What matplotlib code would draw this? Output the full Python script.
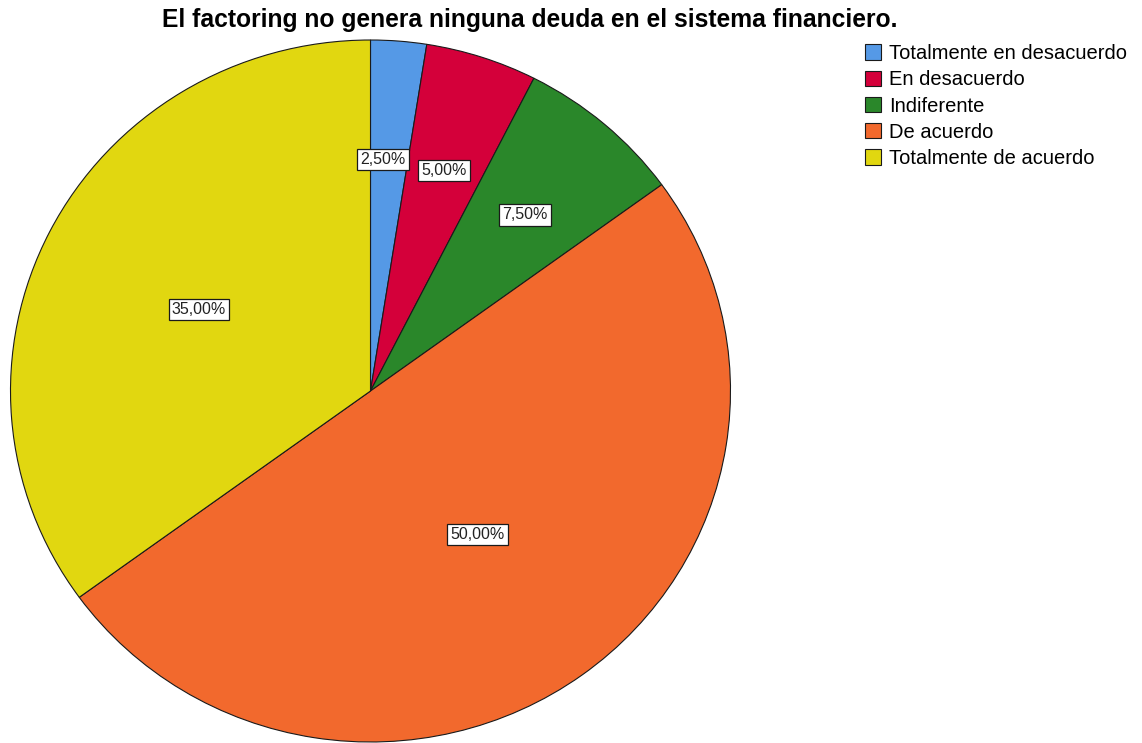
import numpy as np
import matplotlib
matplotlib.use("Agg")
from matplotlib import pyplot as plt

plt.rcParams['font.family'] = ['Liberation Sans', 'DejaVu Sans']

title = "El factoring no genera ninguna deuda en el sistema financiero."
categories = ["Totalmente en desacuerdo", "En desacuerdo", "Indiferente",
              "De acuerdo", "Totalmente de acuerdo"]
percents = [2.5, 5.0, 7.5, 50.0, 35.0]
colors = ["#5599E6", "#D4003A", "#2A872A", "#F2692D", "#E1D710"]
# label placement (angle shift in degrees, radius fraction) per slice
label_shift = [-1.5, 0.0, 0.0, 0.0, -1.0]
label_rad = [0.66, 0.66, 0.66, 0.505, 0.53]

fig = plt.figure(figsize=(11.42, 7.43), dpi=100)
ax = fig.add_axes([10.5 / 1142, 1 / 743, 720 / 1142, 702 / 743])

wedges, _ = ax.pie(percents, colors=colors, startangle=90, counterclock=False,
                   radius=1.0, wedgeprops=dict(edgecolor="#1a1a1a", linewidth=0.8))
ax.set_aspect('auto')
ax.set_xlim(-1, 1)
ax.set_ylim(-1, 1)
ax.axis('off')

start = 0.0
for i, p in enumerate(percents):
    mid = start + p / 2 * 3.6 + label_shift[i]
    start += p * 3.6
    th = np.deg2rad(mid)
    x = label_rad[i] * np.sin(th)
    y = label_rad[i] * np.cos(th)
    txt = ("%.2f%%" % p).replace(".", ",")
    ax.text(x, y, txt, ha='center', va='center', fontsize=11.5, color='#222222',
            bbox=dict(boxstyle='square,pad=0.2', fc='white', ec='#1a1a1a', lw=0.9))

fig.text(530 / 1142, 1 - 20 / 743, title, ha='center', va='center',
         fontsize=17.7, fontweight='bold')

fig.legend(wedges, categories, loc='upper left', bbox_to_anchor=(865 / 1142, 1 - 44 / 743),
           frameon=False, fontsize=14.5, handlelength=0.8, handleheight=0.8,
           handletextpad=0.4, labelspacing=0.36, borderaxespad=0, borderpad=0)

fig.savefig("out.png", dpi=100)
